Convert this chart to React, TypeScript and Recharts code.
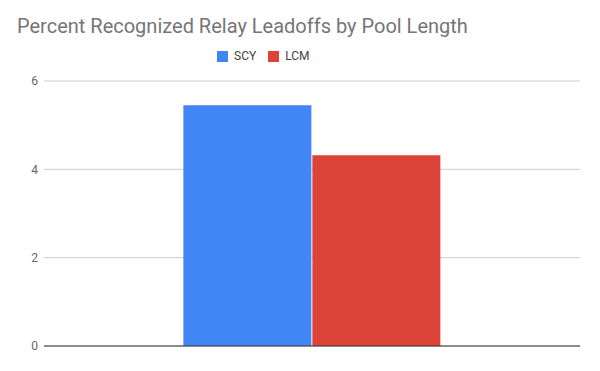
import { BarChart, Bar, XAxis, YAxis, CartesianGrid, ReferenceLine } from 'recharts'

const categories = ['']
const scyValues = [5.45]
const lcmValues = [4.32]
const yTicks = [0, 2, 4, 6]

const data = categories.map((name, i) => ({
    name,
    SCY: scyValues[i],
    LCM: lcmValues[i],
}))

const legendItems = [
    { name: 'SCY', color: '#4285F4' },
    { name: 'LCM', color: '#DB4437' },
]

const App = () => {
    return (
        <div style={{ position: 'absolute', left: 0, top: 0, width: 600, height: 371, background: '#fff', fontFamily: 'Roboto, sans-serif' }}>
            <div style={{ position: 'absolute', left: 17, top: 14, fontSize: 20, color: '#757575', whiteSpace: 'nowrap' }}>
                Percent Recognized Relay Leadoffs by Pool Length
            </div>
            <div style={{ position: 'absolute', left: 217, top: 49, display: 'flex', alignItems: 'center', gap: 12 }}>
                {legendItems.map((item) => (
                    <div key={item.name} style={{ display: 'flex', alignItems: 'center', gap: 6 }}>
                        <div style={{ width: 11, height: 11, background: item.color }} />
                        <span style={{ fontSize: 12, color: '#444' }}>{item.name}</span>
                    </div>
                ))}
            </div>
            <BarChart
                width={600}
                height={371}
                data={data}
                margin={{ top: 81, right: 20, bottom: 25, left: 0 }}
                barCategoryGap="26%"
                barGap={1}
            >
                <CartesianGrid vertical={false} stroke="#ccc" />
                <XAxis dataKey="name" hide />
                <YAxis
                    width={44}
                    domain={[0, 6]}
                    ticks={yTicks}
                    axisLine={false}
                    tickLine={false}
                    tickSize={0}
                    tickMargin={6}
                    tick={{ fill: '#666', fontSize: 12, fontFamily: 'Roboto' }}
                />
                <Bar dataKey="SCY" fill="#4285F4" isAnimationActive={false} />
                <Bar dataKey="LCM" fill="#DB4437" isAnimationActive={false} />
                <ReferenceLine y={0} stroke="#333" />
            </BarChart>
        </div>
    )
}

export default App
